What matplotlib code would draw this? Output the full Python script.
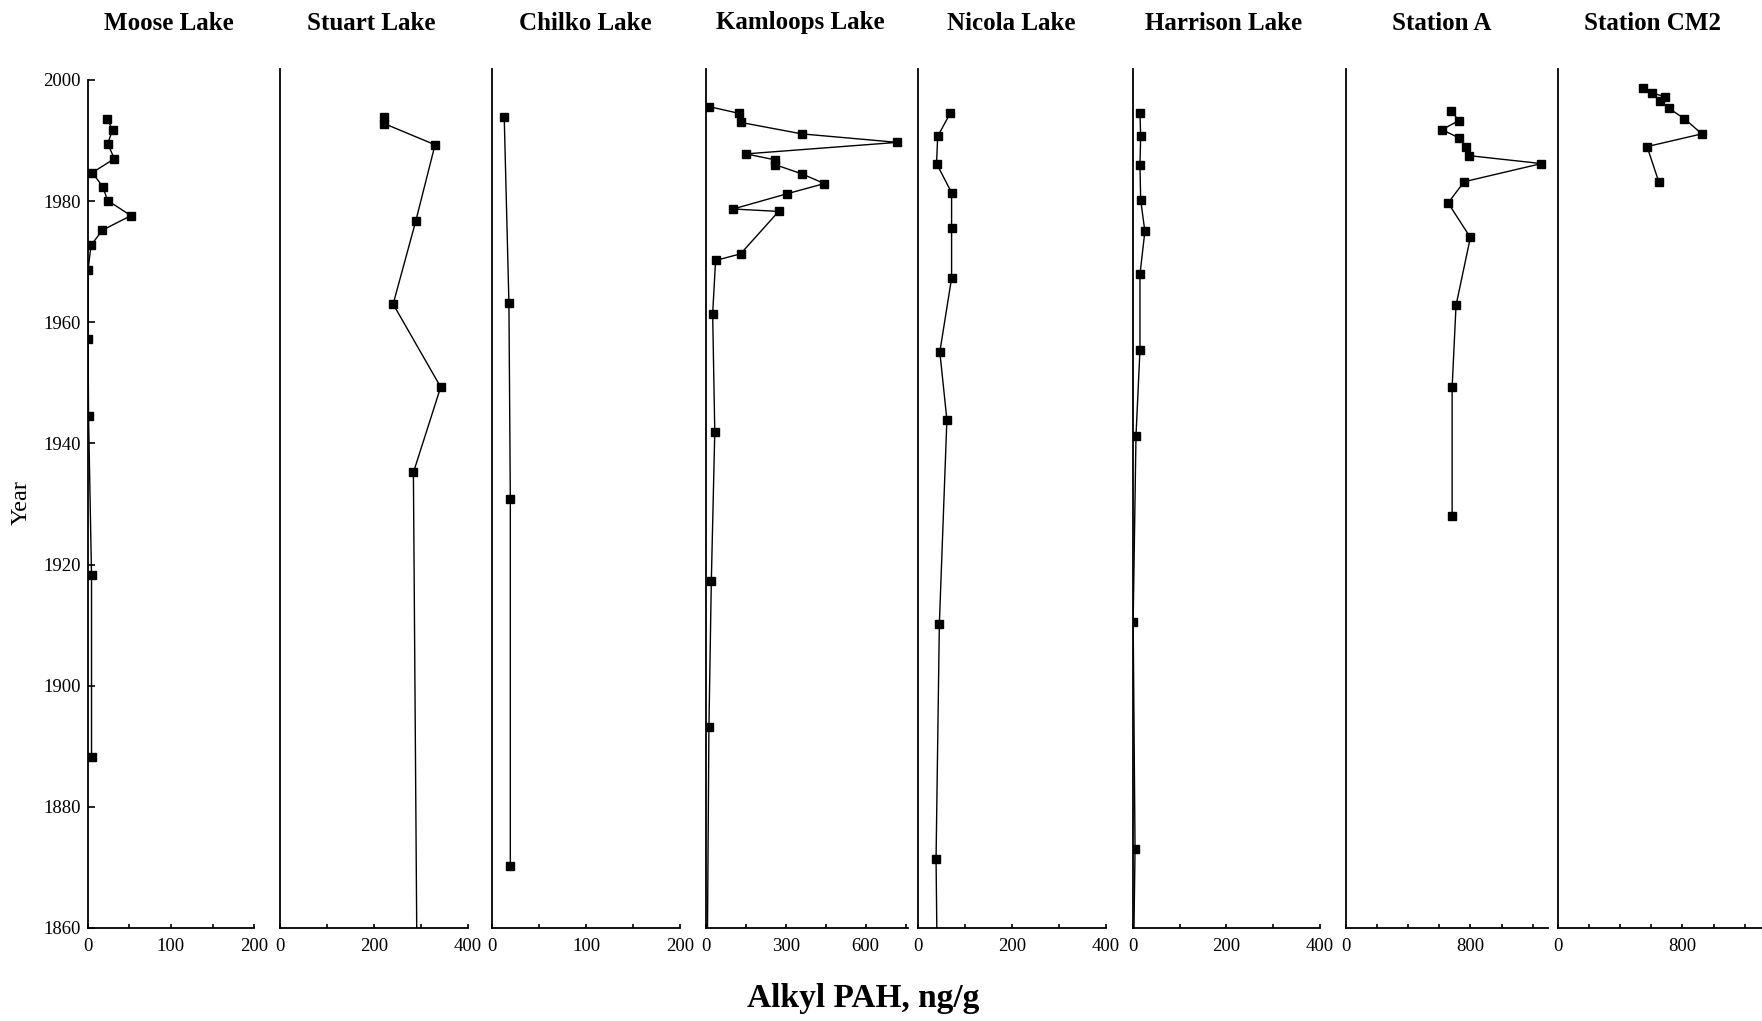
import numpy as np
import matplotlib
matplotlib.use('Agg')
import matplotlib.pyplot as plt

plt.rcParams['font.family'] = ['Liberation Serif', 'DejaVu Serif']

# Alkyl PAH (ng/g) in dated sediment cores
lakes = ['Moose Lake', 'Stuart Lake', 'Chilko Lake', 'Kamloops Lake',
         'Nicola Lake', 'Harrison Lake', 'Station A', 'Station CM2']

moose_year = [1993.6, 1991.8, 1989.5, 1987.0, 1984.7, 1982.4, 1980.1, 1977.6,
              1975.2, 1972.7, 1968.7, 1957.3, 1944.5, 1918.2, 1888.3]
moose_pah = [23, 30, 24, 32, 5.5, 18, 24, 52, 17.5, 4, 0.5, 0.5, 1, 4.6, 4.6]

stuart_year = [1993.9, 1992.8, 1989.3, 1976.7, 1963.0, 1949.3, 1935.2, 1850]
stuart_pah = [222, 222, 330, 289, 241, 342, 284, 292]

chilko_year = [1993.9, 1963.2, 1930.8, 1870.3]
chilko_pah = [13, 18, 19.5, 19.5]

kamloops_year = [1995.6, 1994.5, 1993.0, 1991.1, 1989.7, 1987.8, 1986.8, 1986.0,
                 1984.5, 1982.9, 1981.2, 1978.7, 1978.3, 1971.3, 1970.2, 1961.4,
                 1941.9, 1917.3, 1893.2, 1850]
kamloops_pah = [12, 123, 130, 360, 719, 150, 261, 261, 360, 445, 303, 102, 273,
                130, 36, 25, 33, 20, 11, 4]

nicola_year = [1994.5, 1990.7, 1986.2, 1981.4, 1975.5, 1967.3, 1955.1, 1943.9,
               1910.2, 1871.4, 1850]
nicola_pah = [69, 42.5, 40, 72, 72, 72, 47, 62, 46, 39, 42]

harrison_year = [1994.5, 1990.7, 1986.0, 1980.2, 1975.0, 1967.9, 1955.4, 1941.2,
                 1910.6, 1873.0, 1850]
harrison_pah = [15.5, 17, 15.5, 17, 26, 15.5, 15.5, 7, 1, 5, 1]

stationa_year = [1994.8, 1993.3, 1991.8, 1990.4, 1989.0, 1987.5, 1986.2, 1983.2,
                 1979.7, 1974.0, 1962.8, 1949.3, 1928.0]
stationa_pah = [678, 727, 618, 730, 773, 794, 1256, 760, 657, 800, 708, 683, 683]

cm2_year = [1998.7, 1997.9, 1997.2, 1996.5, 1995.3, 1993.6, 1991.1, 1989.0, 1983.2]
cm2_pah = [549, 603, 689, 657, 714, 813, 924, 573, 648]

years = [moose_year, stuart_year, chilko_year, kamloops_year,
         nicola_year, harrison_year, stationa_year, cm2_year]
pahs = [moose_pah, stuart_pah, chilko_pah, kamloops_pah,
        nicola_pah, harrison_pah, stationa_pah, cm2_pah]

# x range, tick step, labelled ticks for each core
xlims = [200, 400, 200, 760, 400, 400, 1300, 1310]
xsteps = [50, 100, 50, 150, 100, 100, 200, 200]
xlabels = [[0, 100, 200], [0, 200, 400], [0, 100, 200], [0, 300, 600],
           [0, 200, 400], [0, 200, 400], [0, 800], [0, 800]]

# panel edges and title centres in pixels
edges = [(87.7, 254.1), (279.7, 468), (492, 680), (706, 908.3),
         (917.7, 1106), (1132.7, 1320), (1345.7, 1548.3), (1557.7, 1762)]
title_x = [168.6, 370.8, 585.4, 800.1, 1011.3, 1223.7, 1441.7, 1653]

W, H = 1762, 1021
fig = plt.figure(figsize=(W / 100, H / 100), dpi=100)
bottom = (H - 928) / H
height = (928 - 69.3) / H
ytop = 2000 + (80 - 69.3) / 6.07

for i in range(8):
    x0, x1 = edges[i]
    ax = fig.add_axes([x0 / W, bottom, (x1 - x0) / W, height])
    ax.plot(pahs[i], years[i], color='black', lw=1.0, marker='s',
            markersize=6, markerfacecolor='black', markeredgecolor='black')
    ax.set_xlim(0, xlims[i])
    ax.set_ylim(1860, ytop)
    for s in ['top', 'right']:
        ax.spines[s].set_visible(False)
    for s in ['left', 'bottom']:
        ax.spines[s].set_linewidth(1.3)
    ticks = np.arange(0, xlims[i] + 1, xsteps[i])
    ax.set_xticks(ticks)
    ax.set_xticklabels([str(t) if t in xlabels[i] else '' for t in ticks])
    ax.tick_params(axis='x', direction='in', length=3, width=1.2,
                   labelsize=13.5, pad=7)
    if i == 0:
        ax.spines['left'].set_bounds(1860, 2000)
        ax.set_yticks(np.arange(1860, 2001, 20))
        ax.tick_params(axis='y', direction='in', length=4.7, width=1.2,
                       labelsize=13.5, pad=5)
    else:
        ax.set_yticks([])
    fig.text(title_x[i] / W, 1 - 23 / H, lakes[i], ha='center', va='center',
             fontsize=18, fontweight='bold')

fig.text(21.7 / W, 1 - 503 / H, 'Year', rotation=90, ha='center', va='center',
         fontsize=17.5)
fig.text(863 / W, 1 - 998 / H, 'Alkyl PAH, ng/g', ha='center', va='center',
         fontsize=24, fontweight='bold')

fig.savefig('out.png', dpi=100, facecolor='white')
